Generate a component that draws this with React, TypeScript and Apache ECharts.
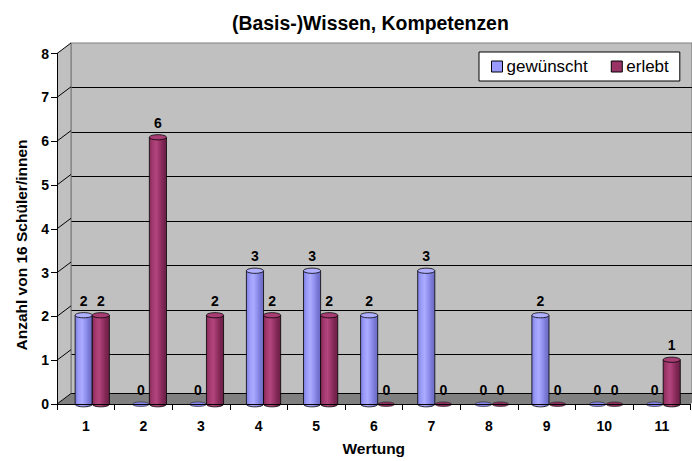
import React, { useEffect, useRef } from "react";
import * as echarts from "echarts";

const categories = ["1", "2", "3", "4", "5", "6", "7", "8", "9", "10", "11"];
const gewuenscht = [2, 0, 0, 3, 3, 2, 3, 0, 2, 0, 0];
const erlebt = [2, 6, 2, 2, 2, 0, 0, 0, 0, 0, 1];
const valueTicks = [0, 1, 2, 3, 4, 5, 6, 7, 8];
const seriesNames = ["gewünscht", "erlebt"];
const titleText = "(Basis-)Wissen, Kompetenzen";
const yName = "Anzahl von 16 Schüler/innen";
const xName = "Wertung";

const FONT = '"Liberation Sans", Arial, Helvetica, sans-serif';
const DX = 14;
const DY = 10.5;
const GW = 633.6;
const GH = 356;
const FRONT_LEFT = 57;
const FRONT_TOP = 53.5;

function cylinder(offset: number, body: string[], topColor: string, diskColor: string) {
  return (params: any, api: any) => {
    const idx = api.value(0);
    const v = api.value(1);
    const band = api.size([1, 0])[0];
    const w = band * 0.3;
    const base = api.coord([idx, 0]);
    const top = api.coord([idx, v]);
    const cx = base[0] + offset * band;
    const ry = 2.6;
    const children: any[] = [];
    const grad = new echarts.graphic.LinearGradient(
      0, 0, 1, 0,
      body.map((c, i) => ({ offset: i / (body.length - 1), color: c }))
    );
    if (v > 0) {
      children.push({ type: "ellipse", shape: { cx, cy: base[1], rx: w / 2, ry }, style: { fill: grad, stroke: "#000", lineWidth: 0.8 } });
      children.push({ type: "rect", shape: { x: cx - w / 2, y: top[1], width: w, height: base[1] - top[1] }, style: { fill: grad } });
      children.push({ type: "line", shape: { x1: cx - w / 2, y1: top[1], x2: cx - w / 2, y2: base[1] }, style: { stroke: "#000", lineWidth: 0.8 } });
      children.push({ type: "line", shape: { x1: cx + w / 2, y1: top[1], x2: cx + w / 2, y2: base[1] }, style: { stroke: "#000", lineWidth: 0.8 } });
      children.push({ type: "ellipse", shape: { cx, cy: top[1], rx: w / 2, ry }, style: { fill: topColor, stroke: "#000", lineWidth: 0.8 } });
    } else {
      children.push({ type: "ellipse", shape: { cx, cy: base[1], rx: w / 2 - 0.3, ry: 2.3 }, style: { fill: diskColor, stroke: "#222", lineWidth: 0.6 } });
    }
    children.push({
      type: "text",
      x: cx,
      y: top[1] - 14.7,
      style: { text: String(v), font: `bold 14px ${FONT}`, fill: "#000", align: "center", verticalAlign: "middle" },
    });
    return { type: "group", children };
  };
}

function walls(params: any, api: any) {
  const t = api.value(1);
  const cs = params.coordSys;
  const x0 = cs.x;
  const y = api.coord([0, t])[1];
  const children: any[] = [];
  if (t === 0) {
    const yTop = api.coord([0, valueTicks[valueTicks.length - 1]])[1];
    children.push({
      type: "polygon",
      shape: { points: [[x0, y], [x0 + DX, y - DY], [x0 + cs.width + DX, y - DY], [x0 + cs.width, y]] },
      style: { fill: "#808080" },
    });
    children.push({
      type: "polygon",
      shape: { points: [[x0, yTop], [x0 + DX, yTop - DY], [x0 + DX, y - DY], [x0, y]] },
      style: { fill: "#c0c0c0" },
    });
    children.push({ type: "line", shape: { x1: x0 + DX, y1: y - DY, x2: x0 + cs.width + DX, y2: y - DY }, style: { stroke: "#000", lineWidth: 1 } });
    children.push({ type: "line", shape: { x1: x0 + DX, y1: yTop - DY, x2: x0 + DX, y2: y - DY }, style: { stroke: "#808080", lineWidth: 1.2 } });
  }
  children.push({ type: "line", shape: { x1: x0, y1: y, x2: x0 + DX, y2: y - DY }, style: { stroke: "#000", lineWidth: 1 } });
  return { type: "group", children };
}

export default function App() {
  const ref = useRef<HTMLDivElement>(null);
  useEffect(() => {
    if (!ref.current) return;
    const chart = echarts.init(ref.current, undefined, { renderer: "svg" });
    const grids = [
      { left: FRONT_LEFT + DX, top: FRONT_TOP - DY, width: GW, height: GH, show: true, backgroundColor: "#c0c0c0", borderColor: "#808080", borderWidth: 1.2 },
      { left: FRONT_LEFT, top: FRONT_TOP, width: GW, height: GH },
      { left: FRONT_LEFT + DX / 2, top: FRONT_TOP - DY / 2, width: GW, height: GH },
    ];
    const hiddenX = (gi: number) => ({
      type: "category", gridIndex: gi, data: categories, boundaryGap: true,
      axisLine: { show: false }, axisTick: { show: false }, axisLabel: { show: false }, splitLine: { show: false },
    });
    const hiddenY = (gi: number, split: boolean) => ({
      type: "value", gridIndex: gi, min: 0, max: 8, interval: 1,
      axisLine: { show: false }, axisTick: { show: false }, axisLabel: { show: false },
      splitLine: { show: split, showMaxLine: false, lineStyle: { color: "#000", width: 1 } },
    });
    chart.setOption({
      animation: false,
      backgroundColor: "#ffffff",
      title: {
        text: titleText, left: 232, top: 13, padding: 0,
        textStyle: { fontSize: 19.4, fontWeight: "bold", fontFamily: FONT, color: "#000" },
      },
      legend: {
        data: seriesNames,
        left: 479, top: 52,
        padding: [6, 11, 6, 12],
        itemGap: 23, itemWidth: 11, itemHeight: 11,
        icon: "rect",
        backgroundColor: "#ffffff", borderColor: "#000", borderWidth: 1, borderRadius: 0,
        itemStyle: { borderColor: "#000", borderWidth: 1 },
        textStyle: { fontSize: 17, fontFamily: FONT, color: "#000", padding: [0, 0, 0, -1] },
      },
      grid: grids,
      xAxis: [
        hiddenX(0),
        {
          type: "category", gridIndex: 1, data: categories, boundaryGap: true, z: 5,
          axisLine: { show: true, lineStyle: { color: "#000", width: 1 } },
          axisTick: { show: true, length: 6, lineStyle: { color: "#000" } },
          axisLabel: { fontSize: 14, fontWeight: "bold", fontFamily: FONT, color: "#000", margin: 15 },
          name: xName, nameLocation: "middle", nameGap: 36,
          nameTextStyle: { fontSize: 15.5, fontWeight: "bold", fontFamily: FONT, color: "#000" },
        },
        hiddenX(2),
      ],
      yAxis: [
        hiddenY(0, true),
        {
          type: "value", gridIndex: 1, min: 0, max: 8, interval: 1, z: 5,
          axisLine: { show: true, lineStyle: { color: "#000", width: 1 } },
          axisTick: { show: true, length: 6, lineStyle: { color: "#000" } },
          axisLabel: { fontSize: 14, fontWeight: "bold", fontFamily: FONT, color: "#000", margin: 8 },
          splitLine: { show: false },
        },
        hiddenY(2, false),
      ],
      graphic: [
        {
          type: "text", x: 21, y: 245, rotation: Math.PI / 2,
          style: { text: yName, font: `bold 15.5px ${FONT}`, fill: "#000", align: "center", verticalAlign: "middle" },
        },
      ],
      series: [
        {
          type: "custom", name: "walls", xAxisIndex: 1, yAxisIndex: 1, z: 1, silent: true,
          data: valueTicks.map((t) => [0, t]), encode: { x: 0, y: 1 }, renderItem: walls,
        },
        {
          type: "custom", name: seriesNames[0], xAxisIndex: 2, yAxisIndex: 2, z: 3,
          itemStyle: { color: "#9999ff" },
          data: gewuenscht.map((v, i) => [i, v]), encode: { x: 0, y: 1 },
          renderItem: cylinder(-0.155, ["#7c7ce0", "#9c9cfa", "#ababff", "#9494f2", "#7a7ad6", "#6a6ac4"], "#b0b0ff", "#8585ec"),
        },
        {
          type: "custom", name: seriesNames[1], xAxisIndex: 2, yAxisIndex: 2, z: 3,
          itemStyle: { color: "#993366" },
          data: erlebt.map((v, i) => [i, v]), encode: { x: 0, y: 1 },
          renderItem: cylinder(0.145, ["#852a58", "#a43a70", "#b2457e", "#9a3468", "#7c2652", "#6c1f47"], "#a83d74", "#8c2c5c"),
        },
      ],
    });
    return () => chart.dispose();
  }, []);
  return (
    <div
      ref={ref}
      style={{ position: "fixed", left: 0, top: 0, width: 692, height: 461, background: "#fff" }}
    />
  );
}
